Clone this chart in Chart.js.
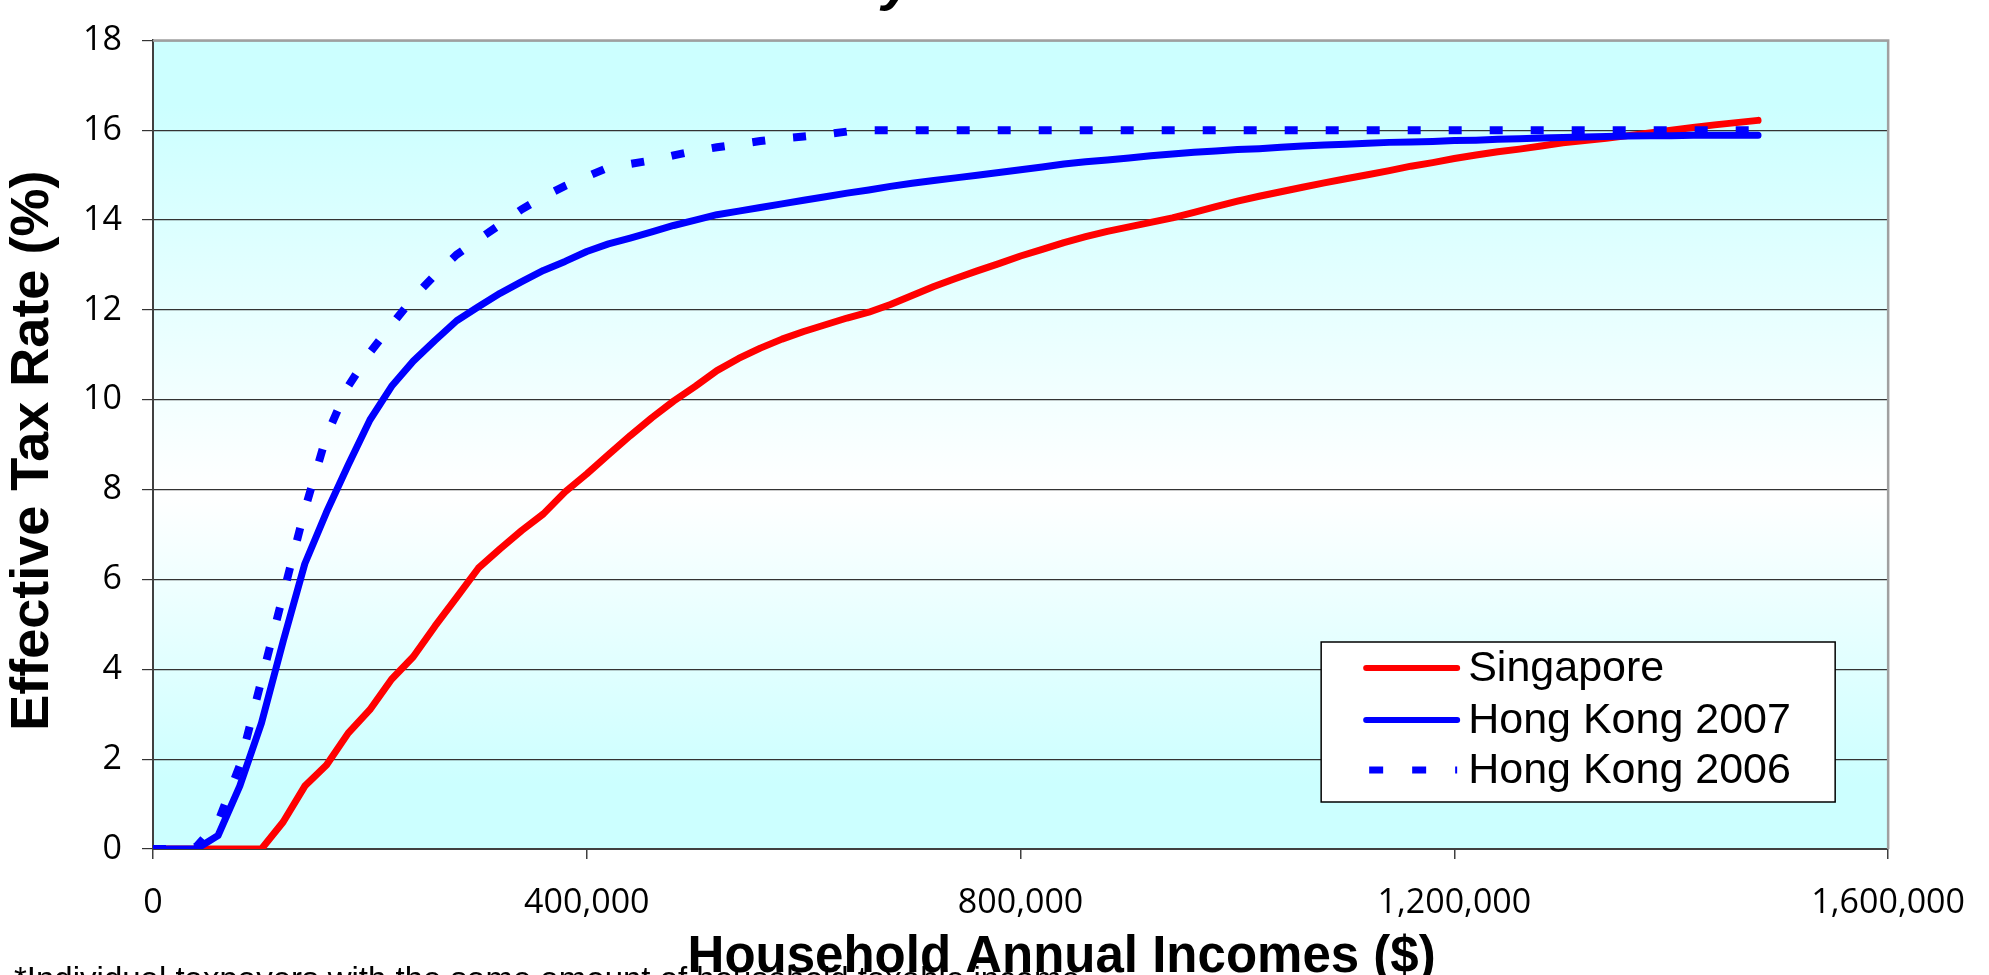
<!DOCTYPE html>
<html><head><meta charset="utf-8">
<script src="https://cdn.jsdelivr.net/npm/chart.js@4.4.0/dist/chart.umd.min.js"></script>
<style>html,body{margin:0;padding:0;background:#fff;overflow:hidden}#wrap{width:1989px;height:975px;position:relative}</style>
</head><body><div id="wrap"><canvas id="c"></canvas></div>
<script>
const incomes = [0,20000,40000,60000,80000,100000,120000,140000,160000,180000,200000,220000,240000,260000,280000,300000,320000,340000,360000,380000,400000,420000,440000,460000,480000,500000,520000,540000,560000,580000,600000,620000,640000,660000,680000,700000,720000,740000,760000,780000,800000,820000,840000,860000,880000,900000,920000,940000,960000,980000,1000000,1020000,1040000,1060000,1080000,1100000,1120000,1140000,1160000,1180000,1200000,1220000,1240000,1260000,1280000,1300000,1320000,1340000,1360000,1380000,1400000,1420000,1440000,1460000,1480000];
const singapore = [0,0,0,0,0,0,0.6,1.4,1.87,2.58,3.1,3.78,4.28,4.96,5.6,6.25,6.68,7.09,7.46,7.95,8.35,8.78,9.2,9.6,9.97,10.3,10.65,10.92,11.15,11.35,11.52,11.67,11.82,11.95,12.12,12.32,12.52,12.7,12.87,13.03,13.2,13.35,13.5,13.63,13.75,13.85,13.95,14.05,14.17,14.3,14.42,14.53,14.63,14.73,14.83,14.92,15.01,15.1,15.2,15.28,15.37,15.45,15.52,15.58,15.65,15.72,15.77,15.82,15.88,15.94,16.0,16.06,16.12,16.17,16.22];
const hongKong2007 = [0,0,0,0.3,1.4,2.8,4.62,6.35,7.5,8.55,9.55,10.3,10.86,11.32,11.76,12.07,12.37,12.63,12.88,13.08,13.3,13.47,13.6,13.74,13.88,14.0,14.12,14.2,14.28,14.36,14.44,14.52,14.6,14.67,14.75,14.82,14.88,14.94,15.0,15.06,15.12,15.18,15.25,15.3,15.34,15.38,15.43,15.47,15.51,15.54,15.57,15.59,15.62,15.65,15.67,15.69,15.71,15.73,15.74,15.75,15.77,15.78,15.8,15.81,15.83,15.84,15.85,15.86,15.87,15.88,15.88,15.89,15.89,15.89,15.89];
const hongKong2006 = [0,0,0.05,0.6,1.86,3.76,5.66,7.55,9.2,10.3,11.05,11.67,12.27,12.78,13.23,13.57,13.9,14.24,14.52,14.76,14.97,15.17,15.25,15.33,15.44,15.54,15.62,15.69,15.76,15.82,15.86,15.91,15.97,16,16,16,16,16,16,16,16,16,16,16,16,16,16,16,16,16,16,16,16,16,16,16,16,16,16,16,16,16,16,16,16,16,16,16,16,16,16,16,16,16,16];
const seriesNames = ['Singapore','Hong Kong 2007','Hong Kong 2006'];
const xTicks = [0,400000,800000,1200000,1600000];
const yTicks = [0,2,4,6,8,10,12,14,16,18];
const xTitle = 'Household Annual Incomes ($)';
const yTitle = 'Effective Tax Rate (%)';
const titleFragment = 'y';
const footnote = '*Individual taxpayers with the same amount of household taxable income';

const pts = arr => incomes.map((x,i)=>({x:x,y:arr[i]}));

const deco = {
  id:'deco',
  beforeDraw(chart){
    const {ctx, chartArea:a} = chart;
    const g = ctx.createLinearGradient(0,a.top,0,a.bottom);
    g.addColorStop(0,'#CCFFFF'); g.addColorStop(0.08,'#CCFFFF');
    g.addColorStop(0.56,'#FFFFFF');
    g.addColorStop(0.92,'#CCFFFF'); g.addColorStop(1,'#CCFFFF');
    ctx.save(); ctx.fillStyle=g; ctx.fillRect(a.left,a.top,a.width,a.height); ctx.restore();
  },
  afterDraw(chart){
    const {ctx, chartArea:a} = chart;
    ctx.save();
    ctx.strokeStyle='#A0A0A0'; ctx.lineWidth=2.5;
    ctx.beginPath(); ctx.moveTo(a.left,a.top); ctx.lineTo(a.right,a.top); ctx.lineTo(a.right,a.bottom); ctx.stroke();
    const bx=a.right-567, by=a.bottom-207, bw=514, bh=160;
    ctx.fillStyle='#fff'; ctx.fillRect(bx,by,bw,bh);
    ctx.strokeStyle='#000'; ctx.lineWidth=1.5; ctx.strokeRect(bx,by,bw,bh);
    const rowY=[26,78,128];
    chart.data.datasets.forEach((ds,i)=>{
      const y=by+rowY[i];
      ctx.strokeStyle=ds.borderColor; ctx.lineWidth=ds.borderDash?7:6;
      ctx.setLineDash(ds.borderDash?[14,29]:[]); ctx.lineCap=ds.borderDash?'butt':'round';
      ctx.beginPath(); ctx.moveTo(bx+(ds.borderDash?48:45),y); ctx.lineTo(bx+136,y); ctx.stroke();
      ctx.setLineDash([]);
      ctx.fillStyle='#000'; ctx.font='43px "Liberation Sans", Arial, sans-serif';
      ctx.textAlign='left'; ctx.textBaseline='middle';
      ctx.fillText(ds.label,bx+147,y+1);
    });
    ctx.fillStyle='#000';
    ctx.font='bold 51px "Liberation Sans", Arial, sans-serif';
    ctx.textAlign='center'; ctx.textBaseline='alphabetic';
    ctx.fillText(xTitle,(a.left+a.right)/2+41,a.bottom+123);
    ctx.save();
    ctx.translate(33,(a.top+a.bottom)/2+6); ctx.rotate(-Math.PI/2);
    ctx.font='bold 54px "Liberation Sans", Arial, sans-serif';
    ctx.textBaseline='middle'; ctx.fillText(yTitle,0,0);
    ctx.restore();
    ctx.font='bold italic 56px "Liberation Sans", Arial, sans-serif';
    ctx.textAlign='left'; ctx.textBaseline='alphabetic';
    ctx.fillText(titleFragment,882,-1);
    ctx.font='33px "Liberation Sans", Arial, sans-serif';
    ctx.fillText(footnote,14,990);
    ctx.restore();
  }
};

new Chart(document.getElementById('c'),{
  type:'line',
  data:{datasets:[
    {label:seriesNames[0],data:pts(singapore),borderColor:'#FF0000',borderWidth:7,order:2,borderJoinStyle:'round',borderCapStyle:'round'},
    {label:seriesNames[1],data:pts(hongKong2007),borderColor:'#0000FF',borderWidth:7,order:0,borderJoinStyle:'round',borderCapStyle:'round'},
    {label:seriesNames[2],data:pts(hongKong2006),borderColor:'#0000FF',borderWidth:8,borderDash:[13,28],order:1,borderJoinStyle:'miter',borderCapStyle:'butt'}
  ]},
  options:{
    responsive:true, maintainAspectRatio:false, animation:false, devicePixelRatio:1,
    layout:{padding:{top:24,right:99,left:0,bottom:0}},
    elements:{point:{radius:0,hoverRadius:0},line:{tension:0}},
    plugins:{legend:{display:false},tooltip:{enabled:false},title:{display:false}},
    scales:{
      x:{type:'linear',min:0,max:1600000,
        afterBuildTicks(s){s.ticks=xTicks.map(v=>({value:v}));},
        afterFit(s){s.height=126;},
        ticks:{maxRotation:0,autoSkip:false,padding:24,color:'#000',font:{family:'"Open Sans", sans-serif',size:34},
          callback:v=>v.toLocaleString('en-US')},
        grid:{drawOnChartArea:false,drawTicks:true,tickLength:10,color:'#404040',lineWidth:1.5},
        border:{display:true,color:'#404040',width:2}},
      y:{type:'linear',min:0,max:18,
        afterBuildTicks(s){s.ticks=yTicks.map(v=>({value:v}));},
        afterFit(s){s.width=153;},
        ticks:{padding:20,color:'#000',font:{family:'"Open Sans", sans-serif',size:34}},
        grid:{color:'#333333',lineWidth:1.2,tickLength:11,drawTicks:true},
        border:{display:true,color:'#404040',width:2}}
    }
  },
  plugins:[deco]
});
</script></body></html>
